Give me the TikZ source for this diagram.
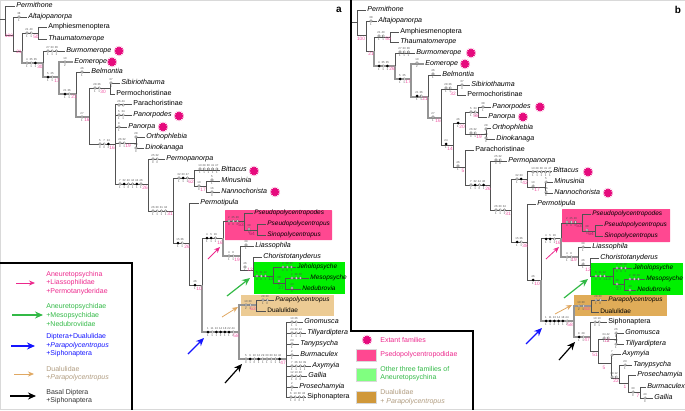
\documentclass[tikz,border=0pt]{standalone}
\usepackage{fontspec}
\setmainfont{Liberation Sans}
\usetikzlibrary{arrows.meta,shapes.geometric}
\definecolor{mypink}{RGB}{236,40,140}
\definecolor{mygreen}{RGB}{50,185,70}
\definecolor{myblue}{RGB}{20,20,255}
\definecolor{mytan}{RGB}{224,168,98}
\definecolor{mytext}{RGB}{176,156,128}
\tikzset{every picture/.style={line width=0.75pt},
  taxon/.style={anchor=west,inner sep=1pt,text height=5pt,text depth=1.5pt,font=\fontsize{7.1}{8}\selectfont\itshape},
  branch/.style={draw=black!68,line width=0.9pt},
  oldbranch/.style={draw=black!42,line width=1.2pt},
  wdot/.style={circle,draw=black!65,fill=white,line width=0.3pt,minimum size=2.6pt,inner sep=0pt},
  bdot/.style={circle,fill=black,minimum size=3pt,inner sep=0pt},
  tinynum/.style={font=\fontsize{2.8}{3}\selectfont,inner sep=0pt,text=black!70,label distance=0.6pt},
  boot/.style={font=\fontsize{4.8}{5}\selectfont,inner sep=0pt,text=mypink!80!white},
  burst/.style={star,star points=14,star point ratio=1.55,fill={rgb,255:red,230;green,10;blue,125},minimum size=10.5pt,inner sep=0pt},
  legtext/.style={anchor=west,align=left,inner sep=0pt,font=\fontsize{7}{8.6}\selectfont},
  legbox/.style={draw=black!15,line width=0.5pt,minimum width=20pt,minimum height=12.5pt,inner sep=0pt},
  hint/.style={-{Stealth[length=6pt,width=5pt]},line width=0.8pt},
  hintbig/.style={-{Stealth[length=8pt,width=7pt]},line width=1.2pt},
  tag/.style={font=\fontsize{10}{10}\selectfont\bfseries,inner sep=0pt}}
\newcommand{\chset}[3]{\foreach \k/\u/\v [count=\i from 0] in {#3}
  {\node[\k,label={[tinynum]above:\u},label={[tinynum]below:\v}] (c#1-#2-\i) at (#1+4.2*\i,#2) {};}}
\newcommand{\insm}{\fontsize{6.5}{7}\selectfont}

\begin{document}
\begin{tikzpicture}[x=1pt,y=-1pt]
\useasboundingbox (0,0) rectangle (685,410);
\draw[black!15,line width=0.8pt] (0,0) rectangle (685,409.5);

% coloured groups
\fill[rounded corners=0.5pt,fill={rgb,255:red,255;green,72;blue,145}] (225,210) rectangle (332,240);
\fill[fill={rgb,255:red,0;green,240;blue,0}] (254,262) rectangle (345,294);
\fill[fill={rgb,255:red,236;green,203;blue,148}] (241,295) rectangle (334,316);
\fill[rounded corners=0.5pt,fill={rgb,255:red,255;green,72;blue,145}] (562,209) rectangle (670,242);
\fill[fill={rgb,255:red,0;green,240;blue,0}] (591,263) rectangle (683,295);
\fill[fill={rgb,255:red,224;green,172;blue,88}] (574,295) rectangle (667,316);

% panel a, taxa
\foreach \n/\x/\y/\lab in {aPerm/15/6/Permithone,aAlta/27/17/Altajopanorpa,aAmph/47/27/\textup{Amphiesmenoptera},
  aThau/47/39/Thaumatomerope,aBurm/65/51/Burmomerope,aEome/73/62/Eomerope,aBelm/90/72/Belmontia,
  aSibi/120/83/Sibiriothauma,aPech/115/94/\textup{Permochoristinae},aPach/132/104/\textup{Parachoristinae},
  aPods/132/115/Panorpodes,aPana/127/127/Panorpa,aOrth/145/137/Orthophlebia,aDino/144/148/Dinokanaga,
  aPepa/165/159/Permopanorpa,aBitt/220/170/Bittacus,aMinu/220/181/Minusinia,aNann/220/192/Nannochorista,
  aPeti/199/203/Permotipula,aPsod/253/213/\insm Pseudopolycentropodes,aPsus/266/224/\insm Pseudopolycentropus,
  aSino/266/235/\insm Sinopolycentropus,aLias/254/246/Liassophila,aChor/262/257/Choristotanyderus,
  aJeho/296/267/\insm Jeholopsyche,aMeso/309/278/\insm Mesopsyche,aNedu/301/289/\insm Nedubrovia,aPara/274/300/\insm Parapolycentropus,
  aDual/266/311/\insm\textup{Dualulidae},aGnom/303/322/Gnomusca,aTill/306/333/Tillyardiptera,aTany/299/344/Tanypsycha,
  aBurc/299/355/Burmaculex,aAxym/311/366/Axymyia,aGall/307/376/Gallia,aPros/298/387/Prosechamyia,
  aSiph/306/397/\textup{Siphonaptera}}
  {\node[taxon] (\n) at (\x,\y) {\lab};}

% panel a, junctions
\foreach \n/\x/\y in {a0/5/19,a1/13/35,a2/22/51,a3/38/33,a4/43/63,a5/59/77,a6/76/94,a7/89/117,a8/110/88,a9/115/144,
  a10/136/143,a11/148/184,a12/173/211,a13/194/178,a14/189/243,a15/206/186,a16/202/285,a17/223/238,a18/239/332,
  a19/244/221,a20/240/256,a21/257/230,a22/253/270,a23/273/276,a24/285/283,a25/256/305,a26/286/359}
  {\coordinate (\n) at (\x,\y);}
\coordinate (astub) at (0,19);
\draw[branch] (astub) -- (a0);
\foreach \p/\c in {a0/aPerm,a0/a1,a1/aAlta,a1/a2,a2/a3,a3/aAmph,a3/aThau,a4/aBurm,a6/aBelm,a7/a8,a7/a9,a8/aSibi,a8/aPech,
  a9/aPach,a9/aPods,a9/aPana,a9/a10,a9/a11,a10/aOrth,a10/aDino,a11/aPepa,a11/a12,a12/a13,a12/a14,a13/aBitt,a13/a15,
  a15/aMinu,a15/aNann,a14/aPeti,a14/a16,a16/a17,a17/a19,a19/aPsod,a19/a21,a21/aPsus,a21/aSino,a20/aLias,a20/a22,
  a22/aChor,a22/a23,a23/aJeho,a23/a24,a24/aMeso,a24/aNedu,a25/aPara,a25/aDual,a26/aGnom,a26/aTill,a26/aTany,a26/aBurc,
  a26/aAxym,a26/aGall,a26/aPros,a26/aSiph}
  {\draw[branch] (\p) |- (\c);}
\foreach \p/\c in {a2/a4,a4/a5,a5/aEome,a5/a6,a6/a7,a16/a18,a17/a20,a18/a25,a18/a26}
  {\draw[oldbranch] (\p) |- (\c);}

% panel a, states
\chset{19}{17}{wdot/38/1}
\chset{27}{33}{wdot/21/1,wdot/40/1}
\chset{27}{63}{wdot/4/1,wdot/35/1,bdot/35/1}
\chset{48}{51}{wdot/27/1,wdot/33/1,wdot/36/1}
\chset{48}{77}{bdot/5/1,wdot/25/1}
\chset{65}{62}{wdot/10/2}
\chset{65}{94}{bdot/21/1,wdot/36/1}
\chset{82}{72}{wdot/46/1}
\chset{82}{117}{wdot/27/1}
\chset{95}{88}{wdot/28/1,wdot/36/1}
\chset{111}{83}{wdot/37/4}
\chset{119}{105}{wdot/26/,wdot/44/}
\chset{119}{115}{wdot/5/1,wdot/34/1}
\chset{119}{127}{wdot/9/1}
\chset{100}{144}{wdot/5/0,wdot/7/0,bdot/24/2}
\chset{120}{143}{wdot/26/0,wdot/32/1}
\chset{136}{137}{wdot/28/}
\chset{136}{148}{wdot/40/0}
\chset{120}{184}{wdot/7/1,bdot/32/1,wdot/40/0,wdot/44/1,bdot/44/1,wdot/46/1}
\chset{153}{159}{wdot/25/0,wdot/32/0}
\chset{153}{211}{wdot/26/1,wdot/30/1,wdot/31/1,wdot/34/1}
\chset{179}{178}{wdot/32/1,bdot/33/1,wdot/47/1}
\chset{200}{169}{wdot/13/1,wdot/29/1,wdot/30/1,wdot/41/1,wdot/47/1}
\chset{199}{186}{wdot/10/0}
\chset{212}{180}{wdot/5/1}
\chset{212}{192}{wdot/16/0}
\chset{178}{243}{bdot/15/1,wdot/36/1}
\chset{207}{238}{bdot/4/1,bdot/5/1,wdot/16/1}
\chset{229}{221}{wdot/2/3,wdot/25/0,wdot/46/0}
\chset{249}{229}{wdot/38/0}
\chset{229}{256}{wdot/4/1,wdot/8/1}
\chset{246}{245}{wdot/39/1}
\chset{245}{267}{wdot/46/1}
\chset{257}{276}{wdot/5/0,wdot/31/0,wdot/42/1}
\chset{283}{267}{wdot/2/0,wdot/28/0,wdot/46/1}
\chset{279}{281}{wdot/38/2}
\chset{292}{278}{wdot/2/,wdot/38/,wdot/46/}
\chset{292}{288}{wdot/43/0}
\chset{195}{285}{bdot/46/1}
\chset{208}{332}{bdot/1/1,wdot/11/1,bdot/13/1,bdot/14/2,bdot/18/1,bdot/22/1,wdot/44/2}
\chset{246}{305}{wdot/10/2,wdot/30/1}
\chset{263}{300}{wdot/28/1,wdot/30/0}
\chset{246}{359}{wdot/5/0,bdot/9/1,wdot/10/0,bdot/12/1,wdot/29/1,wdot/30/1,wdot/33/1,wdot/34/1,bdot/42/2}
\chset{292}{322}{wdot/10/1,wdot/26/1}
\chset{292}{333}{wdot/24/1,wdot/32/1,wdot/44/1}
\chset{292}{344}{wdot/23/1}
\chset{292}{355}{wdot/2/1}
\chset{292}{366}{wdot/7/1,wdot/26/1,wdot/34/1,wdot/39/1}
\chset{292}{376}{wdot/12/1,wdot/13/0,wdot/40/0}
\chset{292}{387}{wdot/2/1}
\chset{291}{397}{wdot/6/1,wdot/13/0,wdot/30/0,wdot/43/1}
\foreach \x/\y/\lab [count=\i] in {9/36/100,19/52/21,36/37/50,40/67/30,57/81/17,74/97/21,87/120/16,103/92/30,112/148/16,
  128/146/19,145/188/26,170/214/31,191/182/62,203/190/17,187/247/26,220/243/16,237/260/19,250/270/12,199/289/10,
  236/336/58,253/309/63,283/363/47}
  {\node[boot] (aboot\i) at (\x,\y) {\lab};}

% panel b, taxa
\foreach \n/\x/\y/\lab in {bPerm/366/10/Permithone,bAlta/377/21/Altajopanorpa,bAmph/399/32/\textup{Amphiesmenoptera},
  bThau/399/42/Thaumatomerope,bBurm/415/53/Burmomerope,bEome/424/64/Eomerope,bBelm/441/75/Belmontia,
  bSibi/470/85/Sibiriothauma,bPech/466/95/\textup{Permochoristinae},bPods/491/107/Panorpodes,bPana/487/117/Panorpa,
  bOrth/491/128/Orthophlebia,bDino/495/139/Dinokanaga,bPach/474/150/\textup{Parachoristinae},bPepa/507/161/Permopanorpa,
  bBitt/552/171/Bittacus,bMinu/553/182/Minusinia,bNann/553/193/Nannochorista,bPeti/536/204/Permotipula,
  bPsod/591/214/\insm Pseudopolycentropodes,bPsus/603/225/\insm Pseudopolycentropus,bSino/603/236/\insm Sinopolycentropus,
  bLias/591/247/Liassophila,bChor/599/258/Choristotanyderus,bJeho/632/268/\insm Jeholopsyche,bMeso/645/279/\insm Mesopsyche,
  bNedu/636/290/\insm Nedubrovia,bPara/607/300/\insm Parapolycentropus,bDual/599/312/\insm\textup{Dualulidae},
  bSiph/607/322/\textup{Siphonaptera},bGnom/624/333/Gnomusca,bTill/624/344/Tillyardiptera,bAxym/621/354/Axymyia,
  bTany/632/365/Tanypsycha,bPros/636/375/Prosechamyia,bBurc/646/387/Burmaculex,bGall/653/398/Gallia}
  {\node[taxon] (\n) at (\x,\y) {\lab};}

% panel b, junctions
\foreach \n/\x/\y in {b0/357/22,b1/366/35,b2/374/51,b3/390/37,b4/395/66,b5/411/79,b6/428/97,b7/441/118,b8/457/89,b9/453/145,
  b10/465/123,b11/465/167,b12/478/112,b13/486/134,b14/490/185,b15/511/210,b16/527/179,b17/527/242,b18/545/187,b19/541/280,
  b20/561/238,b21/574/321,b22/582/223,b23/578/257,b24/595/231,b25/590/265,b26/613/276,b27/624/284,b28/591/306,b29/590/337,
  b30/598/351,b31/616/339,b32/611/363,b33/619/378,b34/628/383,b35/640/392}
  {\coordinate (\n) at (\x,\y);}
\coordinate (bstub) at (352,22);
\draw[branch] (bstub) -- (b0);
\foreach \p/\c in {b0/bPerm,b0/b1,b1/bAlta,b1/b2,b2/b3,b3/bAmph,b3/bThau,b4/bBurm,b6/bBelm,b7/b8,b7/b9,b8/bSibi,b8/bPech,
  b9/b10,b9/b11,b10/b12,b10/b13,b12/bPods,b12/bPana,b13/bOrth,b13/bDino,b11/bPach,b11/b14,b14/bPepa,b14/b15,b15/b16,b15/b17,
  b16/bBitt,b16/b18,b18/bMinu,b18/bNann,b17/bPeti,b17/b19,b19/b20,b20/b22,b22/bPsod,b22/b24,b24/bPsus,b24/bSino,b23/bLias,
  b23/b25,b25/bChor,b25/b26,b26/bJeho,b26/b27,b27/bMeso,b27/bNedu,b28/bPara,b28/bDual,b29/bSiph,b29/b30,b30/b31,b30/b32,
  b31/bGnom,b31/bTill,b32/bAxym,b32/b33,b33/bTany,b33/b34,b34/bPros,b34/b35,b35/bBurc,b35/bGall}
  {\draw[branch] (\p) |- (\c);}
\foreach \p/\c in {b2/b4,b4/b5,b5/bEome,b5/b6,b6/b7,b19/b21,b20/b23,b21/b28,b21/b29}
  {\draw[oldbranch] (\p) |- (\c);}

% panel b, states
\chset{371}{21}{wdot/38/1}
\chset{379}{36}{wdot/21/1,wdot/40/1}
\chset{379}{66}{bdot/4/1,wdot/35/1,bdot/35/1}
\chset{400}{52}{wdot/27/1,wdot/33/1,wdot/36/1}
\chset{400}{79}{bdot/5/1,wdot/25/1}
\chset{417}{63}{wdot/10/2}
\chset{417}{96}{bdot/21/1,wdot/36/1}
\chset{433}{74}{wdot/46/1}
\chset{433}{117}{wdot/27/1}
\chset{446}{88}{wdot/28/1,wdot/36/1}
\chset{462}{85}{wdot/37/4}
\chset{458}{123}{bdot/46/1}
\chset{471}{112}{wdot/5/1,wdot/34/1}
\chset{483}{107}{wdot/38/1}
\chset{471}{133}{wdot/26/0,wdot/32/1}
\chset{486}{129}{wdot/28/}
\chset{486}{138}{wdot/40/0}
\chset{446}{144}{bdot/24/1}
\chset{458}{166}{wdot/46/1}
\chset{471}{185}{wdot/7/1,bdot/32/1,wdot/44/0,bdot/46/1}
\chset{496}{160}{wdot/25/0,wdot/32/0}
\chset{496}{210}{wdot/26/1,wdot/30/1,wdot/34/1}
\chset{517}{179}{wdot/32/1,bdot/33/1}
\chset{533}{172}{wdot/13/1,wdot/29/1,wdot/30/1,wdot/41/1,wdot/47/1}
\chset{533}{186}{wdot/10/0}
\chset{546}{182}{wdot/5/1}
\chset{546}{192}{wdot/16/0}
\chset{517}{242}{bdot/15/1,wdot/36/1}
\chset{546}{239}{bdot/4/1,bdot/5/1,wdot/16/1}
\chset{567}{222}{wdot/2/3,wdot/25/0,wdot/46/0}
\chset{587}{230}{wdot/38/0}
\chset{567}{257}{wdot/4/1,wdot/8/1}
\chset{583}{247}{wdot/39/1}
\chset{583}{264}{wdot/46/1}
\chset{596}{276}{wdot/5/0,wdot/31/0,wdot/42/1}
\chset{617}{268}{wdot/2/0,wdot/28/0,wdot/46/1}
\chset{617}{284}{wdot/38/2}
\chset{630}{279}{wdot/2/,wdot/38/,wdot/46/}
\chset{630}{290}{wdot/43/0}
\chset{533}{280}{bdot/46/1}
\chset{546}{321}{bdot/1/1,bdot/11/1,bdot/13/2,bdot/14/1,bdot/18/1,wdot/44/2}
\chset{579}{306}{wdot/10/2,wdot/30/1}
\chset{596}{300}{wdot/28/1,wdot/30/0}
\chset{579}{337}{bdot/9/1,wdot/29/1}
\chset{595}{322}{wdot/10/0,wdot/13/1}
\chset{604}{338}{wdot/34/1,wdot/42/0}
\chset{616}{333}{wdot/26/1}
\chset{616}{344}{wdot/32/1}
\chset{612}{355}{wdot/7/1}
\chset{612}{377}{wdot/39/,wdot/12/}
\chset{625}{365}{wdot/23/1}
\chset{633}{392}{wdot/30/0}
\chset{645}{398}{wdot/40/0}
\foreach \x/\y/\lab [count=\i] in {361/39/100,371/54/21,388/39/50,392/69/26,408/82/17,425/99/21,438/121/16,453/94/32,
  462/127/20,476/116/58,479/137/19,450/149/14,463/171/5,488/189/26,508/214/31,525/183/42,537/190/17,525/246/38,558/243/16,
  574/260/19,588/270/12,537/284/10,570/325/58,587/309/63,587/340/47,607/341/12,595/355/51,604/368/5,616/381/22,625/387/1,
  638/396/7}
  {\node[boot] (bboot\i) at (\x,\y) {\lab};}
\node[boot,text=mypink!70!black] (aboot53) at (241,225) {53};
\node[boot,text=mypink!70!black] (aboot64) at (252,234) {64};
\node[boot,text=mypink!70!black] (bboot53) at (579,226) {53};
\node[boot,text=mypink!70!black] (bboot64) at (591,234) {64};
\node[boot,text=mygreen!70!black] (aboot13) at (271,279) {13};
\node[boot,text=mygreen!70!black] (bboot13) at (608,279) {13};
\node[boot,text=mygreen!70!black] (aboot27) at (281,288) {27};
\node[boot,text=mygreen!70!black] (bboot27) at (619,289) {27};

% extant families
\foreach \n/\x/\y in {s1/119/51,s2/112/62,s3/179/116,s4/163/127,s5/254/171,s6/275/192,
  s7/471/53,s8/465/64,s9/540/107,s10/523/117,s11/588/172,s12/608/193,s13/367/340}
  {\node[burst] (\n) at (\x,\y) {};}

% frames of the legends
\coordinate (afa) at (0,263);
\coordinate (afb) at (132,263);
\coordinate (afc) at (132,410);
\draw[line width=1.3pt] (afa) -- (afb) -- (afc);
\coordinate (bfa) at (351,0);
\coordinate (bfb) at (351,331);
\coordinate (bfc) at (473,331);
\coordinate (bfd) at (473,410);
\draw[line width=1.3pt] (bfa) -- (bfb) -- (bfc) -- (bfd);

% arrows
\foreach \n/\sx/\sy/\ex/\ey/\col/\kind in {p1/208/259/220/247/mypink/hint,p2/546/259/559/247/mypink/hint,p3/16/283/35/283/mypink/hint,
  g1/227/296/250/278/mygreen/hintbig,g2/564/298/588/279/mygreen/hintbig,g3/12/315/43/315/mygreen/hintbig,
  u1/188/354/204/338/myblue/hintbig,u2/526/344/542/328/myblue/hintbig,u3/11/346/35/346/myblue/hintbig,
  t1/222/317/238/307/mytan/hint,t2/555/314/572/305/mytan/hint,t3/14/374/34/374/mytan/hint,
  k1/225/383/242/364/black/hintbig,k2/559/360/575/342/black/hintbig,k3/10/396/36/396/black/hintbig}
  {\coordinate (\n s) at (\sx,\sy);
   \coordinate (\n e) at (\ex,\ey);
   \draw[\kind,\col] (\n s) -- (\n e);}

% legend of panel a
\node[legtext,text=mypink] (lega1) at (46,283) {Aneuretopsychina\\+Liassophilidae\\+Permotanyderidae};
\node[legtext,text=mygreen] (lega2) at (46,315) {Aneuretopsychidae\\+Mesopsychidae\\+Nedubroviidae};
\node[legtext,text=myblue] (lega3) at (46,345.5) {Diptera+Dualulidae\\+\textit{Parapolycentropus}\\+Siphonaptera};
\node[legtext,text=mytext] (lega4) at (46,373.5) {Dualulidae\\+\textit{Parapolycentropus}};
\node[legtext,text=black!80] (lega5) at (46,396.5) {Basal Diptera\\+Siphonaptera};

% legend of panel b
\node[legtext,text=mypink] (legb1) at (380,340) {Extant families};
\node[legbox,fill={rgb,255:red,255;green,72;blue,145}] (legc1) at (366,355) {};
\node[legtext,text=mypink] (legb2) at (380,355) {Psedopolycentropodidae};
\node[legbox,fill={rgb,255:red,128;green,255;blue,128}] (legc2) at (366,374.5) {};
\node[legtext,text=mygreen] (legb3) at (380,373.5) {Other three families of\\Aneuretopsychina};
\node[legbox,fill={rgb,255:red,208;green,152;blue,58}] (legc3) at (366,397) {};
\node[legtext,text=mytext] (legb4) at (380,397) {Dualulidae\\+ \textit{Parapolycentropus}};

\node[tag] (taga) at (339,10) {a};
\node[tag] (tagb) at (678,10) {b};
\end{tikzpicture}
\end{document}
